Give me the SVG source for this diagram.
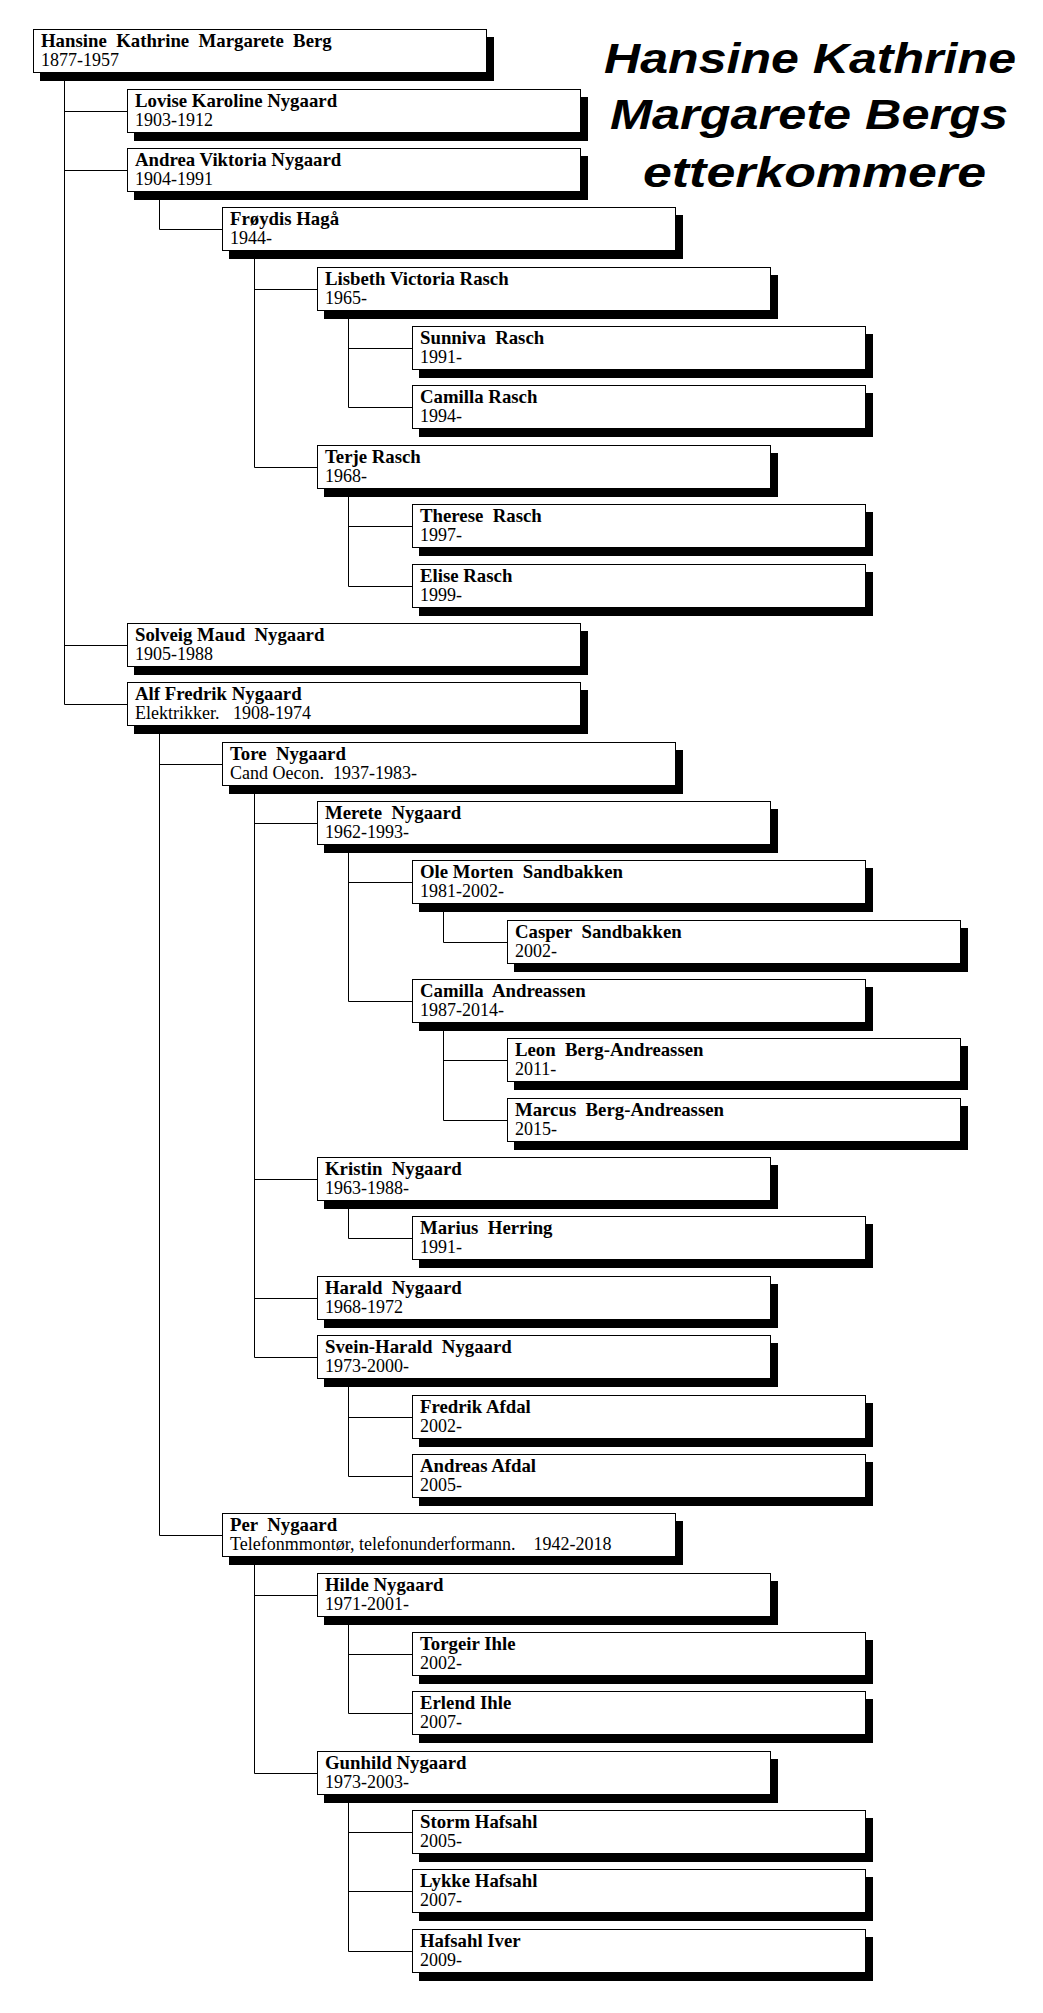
<svg xmlns="http://www.w3.org/2000/svg" width="1043" height="2013" viewBox="0 0 1043 2013" xml:space="preserve">
<style>
.sh{fill:#000}
.bx{fill:#fff;stroke:#000;stroke-width:1}
.nm{font-family:"Liberation Serif",serif;font-weight:bold;font-size:18.8px;fill:#000;white-space:pre}
.dt{font-family:"Liberation Serif",serif;font-size:18px;fill:#000;white-space:pre}
.cn{fill:none;stroke:#000;stroke-width:1}
.tt{font-family:"Liberation Sans",Arial,sans-serif;font-weight:bold;font-style:italic;font-size:42px;fill:#000}
</style>
<defs>
<g id="card"><rect class="sh" x="7" y="8" width="454" height="44"/><rect class="bx" x="0.5" y="0.5" width="453" height="43"/></g>
</defs>
<rect x="0" y="0" width="1043" height="2013" fill="#fff"/>
<g id="title">
<text class="tt" x="604" y="72.5" textLength="412" lengthAdjust="spacingAndGlyphs">Hansine Kathrine</text>
<text class="tt" x="610" y="128.5" textLength="398" lengthAdjust="spacingAndGlyphs">Margarete Bergs</text>
<text class="tt" x="643" y="186.5" textLength="343" lengthAdjust="spacingAndGlyphs">etterkommere</text>
</g>
<g id="connectors">
<path class="cn" d="M64.5,73 V704.5 M64.5,111.5 H127 M64.5,170.5 H127 M64.5,645.5 H127 M64.5,704.5 H127"/>
<path class="cn" d="M159.5,192 V229.5 H222"/>
<path class="cn" d="M159.5,726 V1535.5 H222 M159.5,764.5 H222"/>
<path class="cn" d="M254.5,251 V467.5 H317 M254.5,289.5 H317"/>
<path class="cn" d="M254.5,786 V1357.5 H317 M254.5,823.5 H317 M254.5,1179.5 H317 M254.5,1298.5 H317"/>
<path class="cn" d="M254.5,1557 V1773.5 H317 M254.5,1595.5 H317"/>
<path class="cn" d="M348.5,311 V407.5 H412 M348.5,348.5 H412"/>
<path class="cn" d="M348.5,489 V586.5 H412 M348.5,526.5 H412"/>
<path class="cn" d="M348.5,845 V1001.5 H412 M348.5,882.5 H412"/>
<path class="cn" d="M348.5,1201 V1238.5 H412"/>
<path class="cn" d="M348.5,1379 V1476.5 H412 M348.5,1417.5 H412"/>
<path class="cn" d="M348.5,1617 V1713.5 H412 M348.5,1654.5 H412"/>
<path class="cn" d="M348.5,1795 V1951.5 H412 M348.5,1832.5 H412 M348.5,1891.5 H412"/>
<path class="cn" d="M443.5,904 V942.5 H507"/>
<path class="cn" d="M443.5,1023 V1120.5 H507 M443.5,1060.5 H507"/>
</g>
<g id="n00" transform="translate(33,29)"><use href="#card"/><text class="nm" x="8" y="18">Hansine  Kathrine  Margarete  Berg</text><text class="dt" x="8" y="37">1877-1957</text></g>
<g id="n01" transform="translate(127,89)"><use href="#card"/><text class="nm" x="8" y="18">Lovise Karoline Nygaard</text><text class="dt" x="8" y="37">1903-1912</text></g>
<g id="n02" transform="translate(127,148)"><use href="#card"/><text class="nm" x="8" y="18">Andrea Viktoria Nygaard</text><text class="dt" x="8" y="37">1904-1991</text></g>
<g id="n03" transform="translate(222,207)"><use href="#card"/><text class="nm" x="8" y="18">Frøydis Hagå</text><text class="dt" x="8" y="37">1944-</text></g>
<g id="n04" transform="translate(317,267)"><use href="#card"/><text class="nm" x="8" y="18">Lisbeth Victoria Rasch</text><text class="dt" x="8" y="37">1965-</text></g>
<g id="n05" transform="translate(412,326)"><use href="#card"/><text class="nm" x="8" y="18">Sunniva  Rasch</text><text class="dt" x="8" y="37">1991-</text></g>
<g id="n06" transform="translate(412,385)"><use href="#card"/><text class="nm" x="8" y="18">Camilla Rasch</text><text class="dt" x="8" y="37">1994-</text></g>
<g id="n07" transform="translate(317,445)"><use href="#card"/><text class="nm" x="8" y="18">Terje Rasch</text><text class="dt" x="8" y="37">1968-</text></g>
<g id="n08" transform="translate(412,504)"><use href="#card"/><text class="nm" x="8" y="18">Therese  Rasch</text><text class="dt" x="8" y="37">1997-</text></g>
<g id="n09" transform="translate(412,564)"><use href="#card"/><text class="nm" x="8" y="18">Elise Rasch</text><text class="dt" x="8" y="37">1999-</text></g>
<g id="n10" transform="translate(127,623)"><use href="#card"/><text class="nm" x="8" y="18">Solveig Maud  Nygaard</text><text class="dt" x="8" y="37">1905-1988</text></g>
<g id="n11" transform="translate(127,682)"><use href="#card"/><text class="nm" x="8" y="18">Alf Fredrik Nygaard</text><text class="dt" x="8" y="37">Elektrikker.   1908-1974</text></g>
<g id="n12" transform="translate(222,742)"><use href="#card"/><text class="nm" x="8" y="18">Tore  Nygaard</text><text class="dt" x="8" y="37">Cand Oecon.  1937-1983-</text></g>
<g id="n13" transform="translate(317,801)"><use href="#card"/><text class="nm" x="8" y="18">Merete  Nygaard</text><text class="dt" x="8" y="37">1962-1993-</text></g>
<g id="n14" transform="translate(412,860)"><use href="#card"/><text class="nm" x="8" y="18">Ole Morten  Sandbakken</text><text class="dt" x="8" y="37">1981-2002-</text></g>
<g id="n15" transform="translate(507,920)"><use href="#card"/><text class="nm" x="8" y="18">Casper  Sandbakken</text><text class="dt" x="8" y="37">2002-</text></g>
<g id="n16" transform="translate(412,979)"><use href="#card"/><text class="nm" x="8" y="18">Camilla  Andreassen</text><text class="dt" x="8" y="37">1987-2014-</text></g>
<g id="n17" transform="translate(507,1038)"><use href="#card"/><text class="nm" x="8" y="18">Leon  Berg-Andreassen</text><text class="dt" x="8" y="37">2011-</text></g>
<g id="n18" transform="translate(507,1098)"><use href="#card"/><text class="nm" x="8" y="18">Marcus  Berg-Andreassen</text><text class="dt" x="8" y="37">2015-</text></g>
<g id="n19" transform="translate(317,1157)"><use href="#card"/><text class="nm" x="8" y="18">Kristin  Nygaard</text><text class="dt" x="8" y="37">1963-1988-</text></g>
<g id="n20" transform="translate(412,1216)"><use href="#card"/><text class="nm" x="8" y="18">Marius  Herring</text><text class="dt" x="8" y="37">1991-</text></g>
<g id="n21" transform="translate(317,1276)"><use href="#card"/><text class="nm" x="8" y="18">Harald  Nygaard</text><text class="dt" x="8" y="37">1968-1972</text></g>
<g id="n22" transform="translate(317,1335)"><use href="#card"/><text class="nm" x="8" y="18">Svein-Harald  Nygaard</text><text class="dt" x="8" y="37">1973-2000-</text></g>
<g id="n23" transform="translate(412,1395)"><use href="#card"/><text class="nm" x="8" y="18">Fredrik Afdal</text><text class="dt" x="8" y="37">2002-</text></g>
<g id="n24" transform="translate(412,1454)"><use href="#card"/><text class="nm" x="8" y="18">Andreas Afdal</text><text class="dt" x="8" y="37">2005-</text></g>
<g id="n25" transform="translate(222,1513)"><use href="#card"/><text class="nm" x="8" y="18">Per  Nygaard</text><text class="dt" x="8" y="37">Telefonmmontør, telefonunderformann.    1942-2018</text></g>
<g id="n26" transform="translate(317,1573)"><use href="#card"/><text class="nm" x="8" y="18">Hilde Nygaard</text><text class="dt" x="8" y="37">1971-2001-</text></g>
<g id="n27" transform="translate(412,1632)"><use href="#card"/><text class="nm" x="8" y="18">Torgeir Ihle</text><text class="dt" x="8" y="37">2002-</text></g>
<g id="n28" transform="translate(412,1691)"><use href="#card"/><text class="nm" x="8" y="18">Erlend Ihle</text><text class="dt" x="8" y="37">2007-</text></g>
<g id="n29" transform="translate(317,1751)"><use href="#card"/><text class="nm" x="8" y="18">Gunhild Nygaard</text><text class="dt" x="8" y="37">1973-2003-</text></g>
<g id="n30" transform="translate(412,1810)"><use href="#card"/><text class="nm" x="8" y="18">Storm Hafsahl</text><text class="dt" x="8" y="37">2005-</text></g>
<g id="n31" transform="translate(412,1869)"><use href="#card"/><text class="nm" x="8" y="18">Lykke Hafsahl</text><text class="dt" x="8" y="37">2007-</text></g>
<g id="n32" transform="translate(412,1929)"><use href="#card"/><text class="nm" x="8" y="18">Hafsahl Iver</text><text class="dt" x="8" y="37">2009-</text></g>
</svg>
